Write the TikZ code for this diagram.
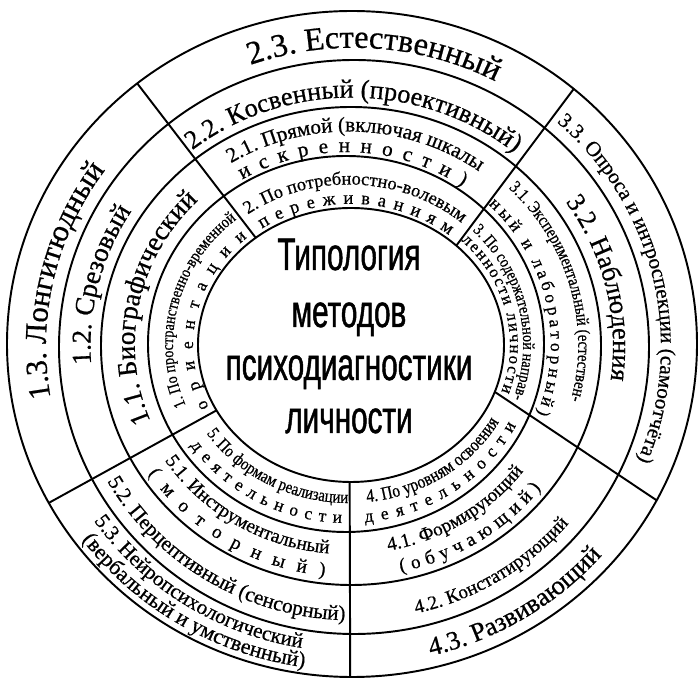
\documentclass[tikz,border=0pt]{standalone}
\usepackage{fontspec}
\setmainfont{Liberation Serif}[FakeBold=0.6]
\newfontfamily\narrowserif[FakeStretch=0.85, FakeBold=0.6]{Liberation Serif}
\newfontfamily\titlefont[FakeStretch=0.65, FakeBold=1]{Liberation Sans}
\usetikzlibrary{calc, decorations.text}

\newcommand{\fs}[1]{\fontsize{#1}{#1}\selectfont}
% text on an elliptic arc: [align]{centre}{x radius}{y radius}{from}{to}{text}
\newcommand{\ringtext}[7][center]{%
  \path[decorate, decoration={text along path, text align=#1, text={#7}}]
    ($(#2)+(#5:#3 and #4)$) arc[start angle=#5, end angle=#6, x radius=#3, y radius=#4];}

\begin{document}
\begin{tikzpicture}[
    x=0.02cm, y=0.02cm,
    ring/.style={draw=black, line width=1.1pt},
    divider/.style={draw=black, line width=1.1pt},
    titleline/.style={anchor=base, inner sep=0pt, font=\titlefont\fs{26}}
  ]
  \fill[white] (0,0) rectangle (698,680);
  \useasboundingbox (0,0) rectangle (698,680);

  % Ring centres
  \coordinate (c0) at (351,335);
  \coordinate (c1) at (346,336);
  \coordinate (c2) at (351,334);
  \coordinate (c3) at (354,333);
  \coordinate (c4) at (352,336);

  % Rings
  \draw[ring] (c0) ellipse [x radius=153, y radius=137];
  \draw[ring] (c1) ellipse [x radius=198, y radius=188];
  \draw[ring] (c2) ellipse [x radius=250, y radius=239];
  \draw[ring] (c3) ellipse [x radius=295, y radius=287];
  \draw[ring] (c4) ellipse [x radius=345, y radius=333];

  % Dividers
  \draw[divider] ($(c4)+(128.5:345 and 333)$) -- ($(c0)+(128.5:153 and 137)$);
  \draw[divider] ($(c4)+(50:345 and 333)$) -- ($(c0)+(46.5:153 and 137)$);
  \draw[divider] ($(c4)+(-28:345 and 333)$) -- ($(c0)+(-20:153 and 137)$);
  \draw[divider] ($(c4)+(-90.3:345 and 333)$) -- ($(c0)+(-90.5:153 and 137)$);
  \draw[divider] ($(c4)+(208.5:345 and 333)$) -- ($(c0)+(208.5:153 and 137)$);

  % Title
  \node[titleline] (title1) at (349,410) {Типология};
  \node[titleline] (title2) at (349,353) {методов};
  \node[titleline] (title3) at (349,300) {психодиагностики};
  \node[titleline] (title4) at (349,247) {личности};

  % Sector 1 (left)
  \ringtext{353.5,333.75}{307.5}{298.5}{214}{120}{|\fs{17.5}|1.3. Лонгитюдный}
  \ringtext{351.75,333.75}{261.25}{251}{213}{119}{|\fs{15.5}|1.2. Срезовый}
  \ringtext{347.4,335.4}{212.6}{202.3}{215}{122}{|\fs{15.5}|1.1. Биографический}
  \ringtext{348.5,335.5}{175.5}{162.5}{210}{122}{|\narrowserif\fs{9.5}|1. По пространственно-временной}
  \ringtext[fit to path]{350.5,335.1}{157.5}{142.1}{206}{131}{|\fs{10}|ориентации}

  % Sector 2 (top)
  \ringtext{353.5,333.75}{307.5}{298.5}{130}{42}{|\fs{18.5}|2.3. Естественный}
  \ringtext{351.6,333.8}{259}{248.6}{134}{45}{|\fs{15}|2.2. Косвенный (проективный)}
  \ringtext{348.5,335}{224}{213.5}{128}{48}{|\fs{12}|2.1. Прямой (включая шкалы}
  \ringtext[fit to path]{346.4,335.8}{202.2}{192.1}{121}{55}{|\fs{12}|искренности)}
  \ringtext{348.8,335.5}{173.3}{160}{130}{45}{|\fs{10.5}|2. По потребностно-волевым}
  \ringtext[fit to path]{350.6,335.1}{156.6}{141.1}{124.5}{51}{|\fs{10.5}|переживаниям}

  % Sector 3 (right)
  \ringtext{353.5,333.75}{307.5}{298.5}{59}{-33}{|\fs{12}|3.3. Опроса и интроспекции (самоотчёта)}
  \ringtext{351.75,333.75}{261.25}{251}{55}{-28}{|\fs{15}|3.2. Наблюдения}
  \ringtext{349,334.8}{229.2}{218.6}{58}{-27}{|\narrowserif\fs{10}|3.1. Экспериментальный (естествен-}
  \ringtext[fit to path]{346.6,335.8}{204.2}{194.1}{46}{-21}{|\fs{10}|ный и лабораторный)}
  \ringtext{348.6,335.5}{174.6}{161.5}{55}{-30}{|\narrowserif\fs{9.5}|3. По содержательной направ-}
  \ringtext[fit to path]{350.25,335.15}{159.75}{144.65}{46}{-19}{|\fs{9.5}|ленности личности}

  % Sector 4 (bottom right)
  \ringtext{348.9,335.4}{171.9}{158.4}{-100}{-12}{|\narrowserif\fs{10.5}|4. По уровням освоения}
  \ringtext[fit to path]{346.9,335.8}{189.9}{178.8}{-84.5}{-27}{|\fs{10}|деятельности}
  \ringtext{348.1,335.2}{219.8}{209.4}{-95}{-21}{|\fs{11}|4.1. Формирующий}
  \ringtext[fit to path]{350.25,334.3}{242.2}{231.35}{-78}{-38}{|\fs{11}|(обучающий)}
  \ringtext{353.2,333.3}{282.4}{273.6}{-95}{-22}{|\fs{11}|4.2. Констатирующий}
  \ringtext{352.6,335.2}{331}{320.1}{-95}{-22}{|\fs{15}|4.3. Развивающий}

  % Sector 5 (bottom left)
  \ringtext{348.9,335.4}{171.9}{158.4}{200}{283}{|\narrowserif\fs{10}|5. По формам реализации}
  \ringtext[fit to path]{346.9,335.8}{189.9}{178.8}{214.5}{268.5}{|\fs{10}|деятельности}
  \ringtext{348.1,335.2}{219.8}{209.4}{200}{278}{|\fs{11}|5.1. Инструментальный}
  \ringtext[fit to path]{350.25,334.3}{242.2}{231.35}{213.5}{264}{|\fs{11}|(моторный)}
  \ringtext{353.2,333.3}{282.4}{273.6}{195}{282.4}{|\fs{12}|5.2. Перцептивный (сенсорный)}
  \ringtext{353.2,334.3}{316}{306.3}{195}{280}{|\fs{12}|5.3. Нейропсихологический}
  \ringtext{352.3,335.6}{337.5}{326.1}{195}{283}{|\fs{12.5}|(вербальный и умственный)}
\end{tikzpicture}
\end{document}
